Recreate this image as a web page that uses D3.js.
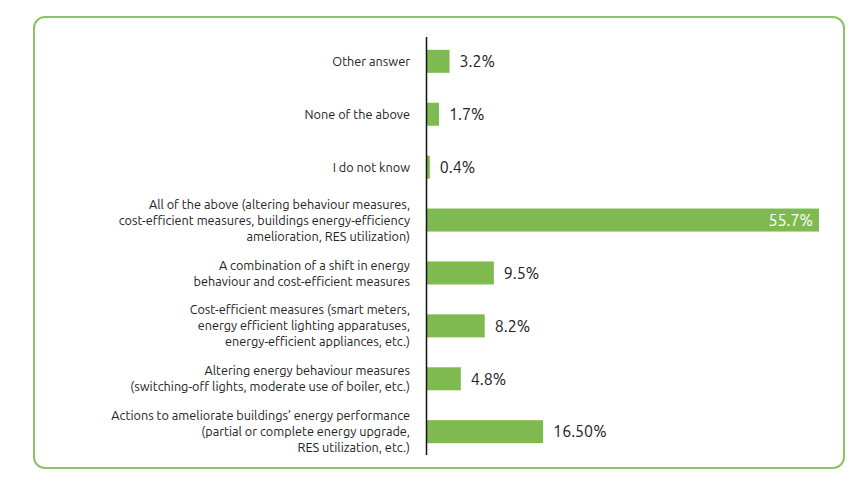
<!DOCTYPE html>
<html>
<head>
<meta charset="utf-8">
<script src="https://cdn.jsdelivr.net/npm/d3@7"></script>
<style>
  body { margin: 0; background: #fff; }
</style>
</head>
<body>
<div class="canvas"></div>
<script>
// data
var categories = [
    ["Other answer"],
    ["None of the above"],
    ["I do not know"],
    ["All of the above (altering behaviour measures,", "cost-efficient measures, buildings energy-efficiency", "amelioration, RES utilization)"],
    ["A combination of a shift in energy", "behaviour and cost-efficient measures"],
    ["Cost-efficient measures (smart meters,", "energy efficient lighting apparatuses,", "energy-efficient appliances, etc.)"],
    ["Altering energy behaviour measures", "(switching-off lights, moderate use of boiler, etc.)"],
    ["Actions to ameliorate buildings\u2019 energy performance", "(partial or complete energy upgrade,", "RES utilization, etc.)"]
];
var values = [3.2, 1.7, 0.4, 55.7, 9.5, 8.2, 4.8, 16.5];
var valueLabels = ["3.2%", "1.7%", "0.4%", "55.7%", "9.5%", "8.2%", "4.8%", "16.50%"];

var svg = d3.select(".canvas").append("svg").attr("width", 866).attr("height", 488);

var green = "#7fba51";
var font = "Ubuntu, 'Noto Sans', 'Open Sans', sans-serif";

// rounded frame
svg.append("rect")
    .attr("x", 34)
    .attr("y", 17)
    .attr("width", 810)
    .attr("height", 451)
    .attr("rx", 11)
    .attr("ry", 11)
    .attr("fill", "none")
    .attr("stroke", "#8dc263")
    .attr("stroke-width", 2);

var x = d3.scaleLinear().domain([0, 55.7]).range([427, 819]);
var y = d3.scaleBand().domain(d3.range(values.length)).range([35, 458]).paddingInner(0.565).paddingOuter(0.28);

// bars
svg.selectAll("rect.bar")
    .data(values)
    .enter()
    .append("rect")
    .attr("class", "bar")
    .attr("x", x(0))
    .attr("y", (d, i) => y(i))
    .attr("width", d => x(d) - x(0))
    .attr("height", y.bandwidth())
    .attr("fill", green);

// axis line
svg.append("line")
    .attr("x1", 426.5)
    .attr("x2", 426.5)
    .attr("y1", 37)
    .attr("y2", 455)
    .attr("stroke", "#111")
    .attr("stroke-width", 1.5);

// value labels
values.forEach(function (d, i) {
    var inside = d > 40;
    svg.append("text")
        .attr("x", inside ? x(d) - 6 : x(d) + 10)
        .attr("y", y(i) + y.bandwidth() / 2)
        .attr("dy", "0.36em")
        .attr("text-anchor", inside ? "end" : "start")
        .attr("font-family", font)
        .attr("font-size", "16px")
        .attr("fill", inside ? "#fff" : "#222")
        .text(valueLabels[i]);
});

// category labels
categories.forEach(function (lines, i) {
    var cy = y(i) + y.bandwidth() / 2;
    var lh = 16;
    var t = svg.append("text")
        .attr("text-anchor", "end")
        .attr("font-family", font)
        .attr("font-size", "12.7px")
        .attr("fill", "#222");
    lines.forEach(function (line, k) {
        t.append("tspan")
            .attr("x", 410)
            .attr("y", cy + (k - (lines.length - 1) / 2) * lh)
            .attr("dy", "0.36em")
            .text(line);
    });
});
</script>
</body>
</html>
